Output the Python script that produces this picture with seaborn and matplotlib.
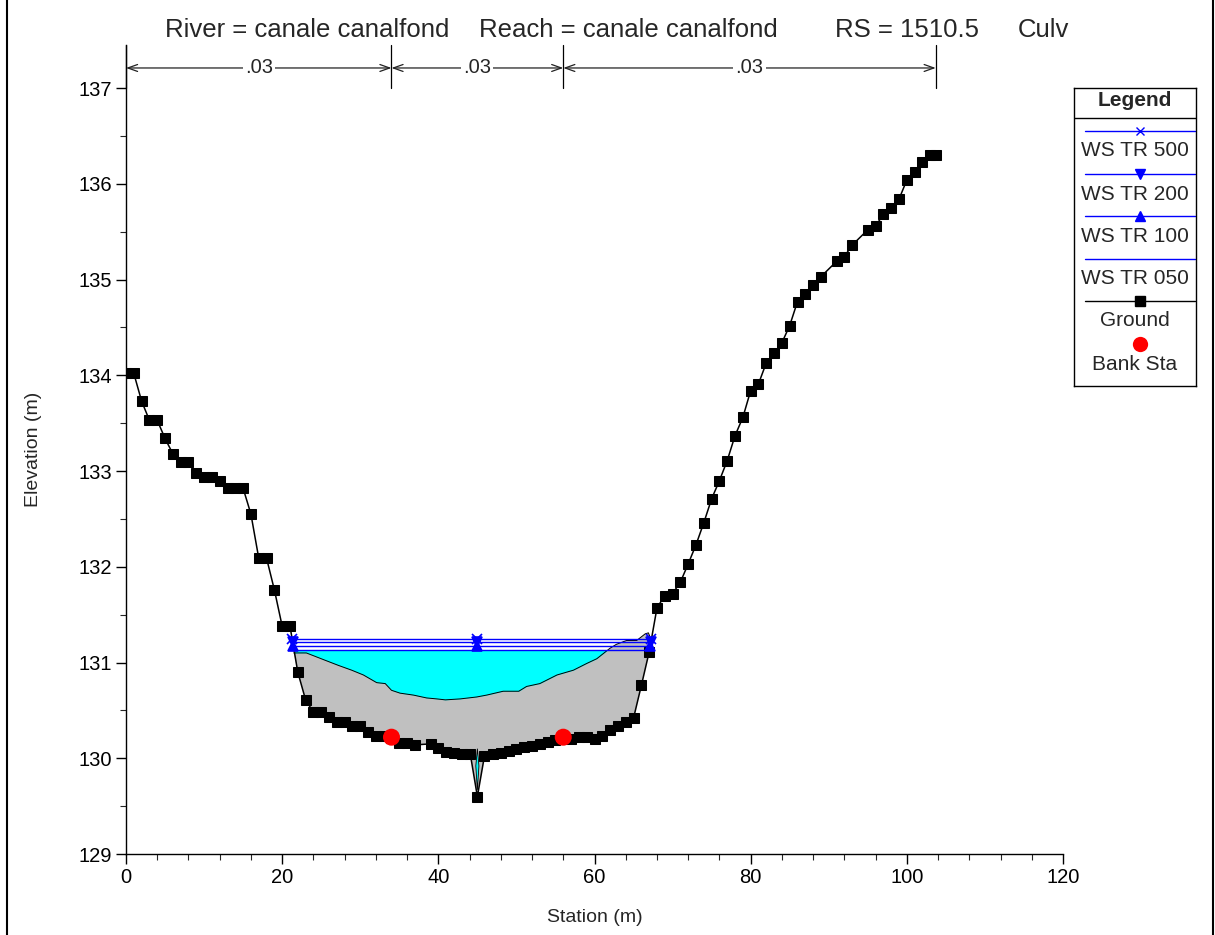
import numpy as np
import pandas as pd
import matplotlib
matplotlib.use("Agg")
import matplotlib.pyplot as plt
import seaborn as sns
from matplotlib.patches import Polygon
from matplotlib.lines import Line2D

# ---- cross-section data -------------------------------------------------
station = [0, 1, 2, 3, 4, 5, 6, 7, 8, 9, 10, 11, 12, 13, 14, 15, 16, 17, 18, 19,
           20, 21, 22, 23, 24, 25, 26, 27, 28, 29, 30, 31, 32, 33, 34, 35, 36, 37,
           39, 40, 41, 42, 43, 44.1, 45, 45.9, 47, 48, 49, 50, 51, 52, 53, 54, 55,
           56, 57, 58, 59, 60, 61, 62, 63, 64, 65, 66, 67, 68, 69, 70, 71, 72, 73,
           74, 75, 76, 77, 78, 79, 80, 81, 82, 83, 84, 85, 86, 87, 88, 89, 91, 92,
           93, 95, 96, 97, 98, 99, 100, 101, 102, 103, 103.7]
elevation = [134.02, 134.02, 133.73, 133.53, 133.53, 133.34, 133.18, 133.09, 133.09,
             132.98, 132.94, 132.94, 132.90, 132.82, 132.82, 132.82, 132.55, 132.09,
             132.09, 131.76, 131.38, 131.38, 130.90, 130.61, 130.48, 130.48, 130.43,
             130.38, 130.38, 130.34, 130.34, 130.27, 130.23, 130.23, 130.21, 130.16,
             130.16, 130.14, 130.15, 130.11, 130.07, 130.05, 130.04, 130.04, 129.60,
             130.02, 130.04, 130.06, 130.08, 130.10, 130.12, 130.13, 130.15, 130.17,
             130.19, 130.22, 130.20, 130.22, 130.22, 130.20, 130.23, 130.29, 130.34,
             130.38, 130.42, 130.76, 131.11, 131.57, 131.70, 131.72, 131.84, 132.03,
             132.23, 132.46, 132.71, 132.90, 133.11, 133.37, 133.56, 133.84, 133.91,
             134.13, 134.23, 134.34, 134.52, 134.77, 134.85, 134.94, 135.03, 135.19,
             135.24, 135.36, 135.52, 135.56, 135.68, 135.75, 135.84, 136.04, 136.12,
             136.23, 136.30, 136.30]

bank_sta = [34.0, 56.0]
bank_elev = [130.22, 130.22]

# top of the sediment deposit inside the culvert
fill_sta = [21.5, 23.1, 25.3, 27.2, 28.9, 30.4, 31.25, 32.1, 33.2, 34.0, 35.1, 36.8,
            38.5, 39.8, 40.9, 42.8, 44.9, 46.2, 48.3, 50.3, 51.3, 53.0, 55.2, 57.3,
            59.0, 60.3, 62.0, 62.8, 64.1, 65.4, 66.5, 66.9, 67.25]
fill_elev = [131.10, 131.10, 131.03, 130.97, 130.92, 130.87, 130.83, 130.79, 130.78,
             130.71, 130.68, 130.66, 130.63, 130.62, 130.61, 130.62, 130.64, 130.66,
             130.70, 130.70, 130.75, 130.78, 130.87, 130.92, 130.99, 131.04, 131.15,
             131.19, 131.23, 131.23, 131.30, 131.31, 131.24]

# small water lens in the low-flow notch
lens_sta = [45.0, 45.2, 45.0, 44.8]
lens_elev = [130.10, 129.92, 129.67, 129.92]

ws_profiles = ["WS TR 500", "WS TR 200", "WS TR 100", "WS TR 050"]
ws_elev = [131.245, 131.21, 131.17, 131.13]
ws_markers = ["x", "v", "^", None]

n_sta = [0.0, 34.0, 56.0, 103.7]
n_values = [".03", ".03", ".03"]

x_ticks = [0, 20, 40, 60, 80, 100, 120]
y_ticks = [129, 130, 131, 132, 133, 134, 135, 136, 137]

# ---- style ----------------------------------------------------------------
sns.set_style("ticks")
plt.rcParams["font.family"] = ["Liberation Sans", "DejaVu Sans"]

W, H = 1215, 935
fig = plt.figure(figsize=(W / 100, H / 100), dpi=100)
ax = fig.add_axes([126 / W, (H - 854) / H, 937 / W, 809 / H])

BLUE = "#0000ff"
CYAN = "#00ffff"
GREY = "#c0c0c0"

s = np.array(station, dtype=float)
z = np.array(elevation, dtype=float)
fs = np.array(fill_sta)
fz = np.array(fill_elev)


def crossings(level):
    i0 = int(np.argmin(z))
    i = i0
    while z[i] < level:
        i -= 1
    xl = np.interp(level, [z[i + 1], z[i]], [s[i + 1], s[i]])
    j = i0
    while z[j] < level:
        j += 1
    xr = np.interp(level, [z[j - 1], z[j]], [s[j - 1], s[j]])
    return xl, xr


# sediment deposit: between its top surface and the ground
inside = (s > fs[0]) & (s < fs[-1])
poly_x = np.concatenate([fs, s[inside][::-1]])
poly_y = np.concatenate([fz, z[inside][::-1]])
ax.fill(poly_x, poly_y, color=GREY, zorder=1, lw=0)

# water above the deposit
ax.fill_between(fs, fz, ws_elev[-1], where=fz < ws_elev[-1], interpolate=True,
                color=CYAN, lw=0, zorder=2)
ax.plot(fs, fz, color="black", lw=0.7, zorder=3)
ax.add_patch(Polygon(np.column_stack([lens_sta, lens_elev]), closed=True,
                     facecolor=CYAN, edgecolor="black", lw=0.6, zorder=3))

# ground profile
ground = pd.DataFrame({"Station": station, "Elevation": elevation})
sns.lineplot(data=ground, x="Station", y="Elevation", sort=False, estimator=None,
             color="black", lw=1.1, marker="s", markersize=6.5,
             markeredgecolor="black", ax=ax, zorder=4)

# water surface profiles
mid = s[int(np.argmin(z))]
for name, lvl, mk in zip(ws_profiles, ws_elev, ws_markers):
    xl, xr = crossings(lvl)
    d = pd.DataFrame({"Station": [xl, mid, xr], "Elevation": [lvl] * 3})
    kw = {}
    if mk is not None:
        kw = dict(marker=mk, markersize=7, markeredgecolor=BLUE, markerfacecolor=BLUE,
                  markeredgewidth=1.2)
    sns.lineplot(data=d, x="Station", y="Elevation", sort=False, estimator=None,
                 color=BLUE, lw=1.0, ax=ax, zorder=5, **kw)

# bank stations
sns.scatterplot(x=bank_sta, y=bank_elev, color="red", s=150, edgecolor="none",
                ax=ax, zorder=6)

# Manning's n regions
y_arrow = 137.21
for k in range(len(n_values)):
    ax.annotate("", xy=(n_sta[k + 1], y_arrow), xytext=(n_sta[k], y_arrow),
                arrowprops=dict(arrowstyle="<->,head_length=0.7,head_width=0.25",
                                color="#222222", lw=0.9, shrinkA=0, shrinkB=0),
                annotation_clip=False)
    ax.text((n_sta[k] + n_sta[k + 1]) / 2, y_arrow, n_values[k], ha="center",
            va="center", fontsize=14.5, zorder=7,
            bbox=dict(facecolor="white", edgecolor="none", pad=1.5))
for xs in n_sta:
    ax.plot([xs, xs], [137.0, 137.45], color="black", lw=0.9, clip_on=False)

# axes
ax.set_xlim(0, 120)
ax.set_ylim(129, 137.45)
ax.set_xticks(x_ticks)
ax.set_yticks(y_ticks)
ax.set_xticks(np.arange(0, 121, 4), minor=True)
ax.set_yticks(np.arange(129, 137.01, 0.5), minor=True)
ax.tick_params(axis="both", which="major", length=7, width=1, labelsize=14.5,
               colors="black", pad=3)
ax.tick_params(axis="both", which="minor", length=4, width=0.8)
sns.despine(ax=ax)
for sp in ("left", "bottom"):
    ax.spines[sp].set_linewidth(1.0)
    ax.spines[sp].set_color("black")
ax.set_xlabel("Station (m)", fontsize=14, labelpad=16)
ax.set_ylabel("Elevation (m)", fontsize=14, labelpad=26)
ax.set_facecolor("white")

# title
ty = (H - 30) / H
fig.text(165 / W, ty, "River = canale canalfond", fontsize=18.5, va="center")
fig.text(479 / W, ty, "Reach = canale canalfond", fontsize=18.5, va="center")
fig.text(835 / W, ty, "RS = 1510.5", fontsize=18.5, va="center")
fig.text(1018 / W, ty, "Culv", fontsize=18.5, va="center")

# legend box
lx, ly, lw_, lh = 1074, 88, 122, 298
lg = fig.add_axes([lx / W, (H - ly - lh) / H, lw_ / W, lh / H])
lg.set_xlim(0, lw_)
lg.set_ylim(lh, 0)
lg.set_xticks([])
lg.set_yticks([])
for sp in lg.spines.values():
    sp.set_visible(True)
    sp.set_color("black")
    sp.set_linewidth(1.0)
lg.text(lw_ / 2, 13, "Legend", ha="center", va="center", fontsize=15, fontweight="bold")
lg.plot([0, lw_], [30, 30], color="black", lw=1.0)
x0, x1 = 11, 121
xm = (x0 + x1) / 2
rows = [43, 86, 128, 171]
labels_y = [63, 106, 148, 191]
for name, mk, ry, ty_ in zip(ws_profiles, ws_markers, rows, labels_y):
    lg.plot([x0, x1], [ry, ry], color=BLUE, lw=1.0)
    if mk is not None:
        lg.plot([xm], [ry], marker=mk, color=BLUE, markersize=7 if mk != "x" else 6,
                markeredgewidth=1.0)
    lg.text(lw_ / 2, ty_, name, ha="center", va="center", fontsize=15)
lg.plot([x0, x1], [213, 213], color="black", lw=1.0)
lg.plot([xm], [213], marker="s", color="black", markersize=6.5)
lg.text(lw_ / 2, 232, "Ground", ha="center", va="center", fontsize=15)
lg.plot([xm], [256], marker="o", color="red", markersize=11, markeredgewidth=0)
lg.text(lw_ / 2, 276, "Bank Sta", ha="center", va="center", fontsize=15)

# outer window frame (left and right edges)
for xp in (6.5, 1212.5):
    fig.add_artist(Line2D([xp / W, xp / W], [0, 1], transform=fig.transFigure,
                          color="black", lw=1.5))

fig.savefig("out.png", dpi=100, facecolor="white")
